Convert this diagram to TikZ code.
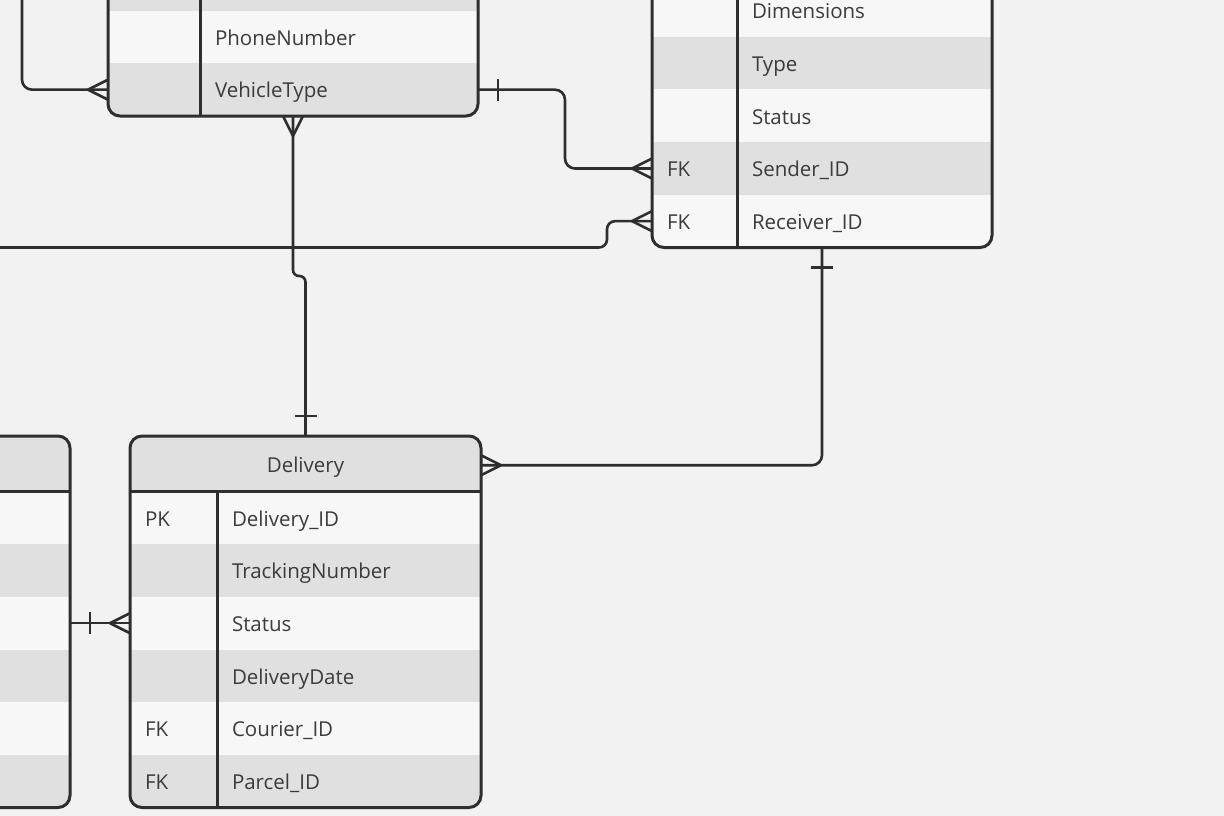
\documentclass[tikz,border=0pt]{standalone}
\usepackage{fontspec}
\setmainfont{Open Sans}

\definecolor{bgcol}{HTML}{F2F2F2}
\definecolor{rowA}{HTML}{F7F7F7}
\definecolor{rowB}{HTML}{E0E0E0}
\definecolor{ink}{HTML}{2E2E2E}
\definecolor{txt}{HTML}{3B3B3B}

\tikzset{
  cell/.style={anchor=north west, inner xsep=15pt, inner ysep=0pt, outer sep=0pt,
    minimum height=52.67pt, text height=16.6pt, text depth=0pt, align=left,
    font=\fontsize{20.5}{24}\selectfont, text=txt},
  lite/.style={cell, fill=rowA},
  dark/.style={cell, fill=rowB},
  tbl/.style={inner sep=0pt, outer sep=0pt},
  frame/.style={draw=ink, line width=3pt, rounded corners=12pt},
  conn/.style={draw=ink, line width=2.6pt},
  crowfoot/.pic={\draw[conn] (-20,0) -- (0,-10) (-20,0) -- (0,10);},
  onebar/.pic={\draw[conn] (-20,-11) -- (-20,11);}
}

\begin{document}
\begin{tikzpicture}[x=1pt, y=-1pt]
  \useasboundingbox (0,0) rectangle (1224,816);
  \clip (0,0) rectangle (1224,816);
  \fill[bgcol] (0,0) rectangle (1224,816);

  % courier table (top left)
  \node[tbl, minimum width=370pt, minimum height=400pt, anchor=south west] (courier) at (108,116) {};
  \begin{scope}
    \clip[rounded corners=12pt] (courier.north west) rectangle (courier.south east);
    \node[dark, text width=62pt] (ck1) at (108,-42) {};
    \node[lite, text width=62pt] (ck2) at (ck1.south west) {};
    \node[dark, text width=62pt] (ck3) at (ck2.south west) {};
    \node[dark, text width=248pt] (cn1) at (ck1.north east) {};
    \node[lite, text width=248pt] (cn2) at (ck2.north east) {PhoneNumber};
    \node[dark, text width=248pt] (cn3) at (ck3.north east) {VehicleType};
  \end{scope}
  \draw[frame] (courier.north west) rectangle (courier.south east);
  \draw[frame] (ck1.north east) -- (ck3.south east);

  % parcel table (top right)
  \node[tbl, minimum width=340pt, minimum height=400pt, anchor=south west] (parcel) at (652,247.5) {};
  \begin{scope}
    \clip[rounded corners=12pt] (parcel.north west) rectangle (parcel.south east);
    \node[lite, text width=55pt] (pk1) at (652,-15.85) {};
    \node[dark, text width=55pt] (pk2) at (pk1.south west) {};
    \node[lite, text width=55pt] (pk3) at (pk2.south west) {};
    \node[dark, text width=55pt] (pk4) at (pk3.south west) {FK};
    \node[lite, text width=55pt] (pk5) at (pk4.south west) {FK};
    \node[lite, text width=225pt] (pn1) at (pk1.north east) {Dimensions};
    \node[dark, text width=225pt] (pn2) at (pk2.north east) {Type};
    \node[lite, text width=225pt] (pn3) at (pk3.north east) {Status};
    \node[dark, text width=225pt] (pn4) at (pk4.north east) {Sender\_ID};
    \node[lite, text width=225pt] (pn5) at (pk5.north east) {Receiver\_ID};
  \end{scope}
  \draw[frame] (parcel.north west) rectangle (parcel.south east);
  \draw[frame] (pk1.north east) -- (pk5.south east);

  % table at bottom left
  \node[tbl, minimum width=270pt, minimum height=371.5pt, anchor=north east] (ltable) at (70,436) {};
  \begin{scope}
    \clip[rounded corners=12pt] (ltable.north west) rectangle (ltable.south east);
    \node[dark, text width=240pt, minimum height=55.5pt] (lhead) at (ltable.north west) {};
    \node[lite, text width=240pt] (lr1) at (lhead.south west) {};
    \node[dark, text width=240pt] (lr2) at (lr1.south west) {};
    \node[lite, text width=240pt] (lr3) at (lr2.south west) {};
    \node[dark, text width=240pt] (lr4) at (lr3.south west) {};
    \node[lite, text width=240pt] (lr5) at (lr4.south west) {};
    \node[dark, text width=240pt] (lr6) at (lr5.south west) {};
  \end{scope}
  \draw[frame] (ltable.north west) rectangle (ltable.south east);
  \draw[frame] (lhead.south west) -- (lhead.south east);

  % delivery table
  \node[tbl, minimum width=351pt, minimum height=371.5pt, anchor=north west] (delivery) at (130,436) {};
  \begin{scope}
    \clip[rounded corners=12pt] (delivery.north west) rectangle (delivery.south east);
    \node[dark, text width=321pt, align=center, minimum height=55.5pt] (dhead) at (130,436) {Delivery};
    \node[lite, text width=57pt] (dk1) at (dhead.south west) {PK};
    \node[dark, text width=57pt] (dk2) at (dk1.south west) {};
    \node[lite, text width=57pt] (dk3) at (dk2.south west) {};
    \node[dark, text width=57pt] (dk4) at (dk3.south west) {};
    \node[lite, text width=57pt] (dk5) at (dk4.south west) {FK};
    \node[dark, text width=57pt] (dk6) at (dk5.south west) {FK};
    \node[lite, text width=234pt] (dn1) at (dk1.north east) {Delivery\_ID};
    \node[dark, text width=234pt] (dn2) at (dk2.north east) {TrackingNumber};
    \node[lite, text width=234pt] (dn3) at (dk3.north east) {Status};
    \node[dark, text width=234pt] (dn4) at (dk4.north east) {DeliveryDate};
    \node[lite, text width=234pt] (dn5) at (dk5.north east) {Courier\_ID};
    \node[dark, text width=234pt] (dn6) at (dk6.north east) {Parcel\_ID};
  \end{scope}
  \draw[frame] (delivery.north west) rectangle (delivery.south east);
  \draw[frame] (dhead.south west) -- (dhead.south east);
  \draw[frame] (dk1.north east) -- (dk6.south east);

  % relations
  \coordinate (c1top) at (22,-20);
  \coordinate (c3left) at (-20,247.5);
  \draw[conn, rounded corners=10pt] (c1top) |- (ck3.west);
  \draw[conn, rounded corners=10pt] (cn3.east) -- ++(87,0) |- (pk4.west);
  \draw[conn, rounded corners=8pt] (c3left) -| ([xshift=-45pt]pk5.west) -- (pk5.west);
  \draw[conn, rounded corners=6pt] (courier.south) -- ++(0,160) -| (delivery.north);
  \draw[conn, rounded corners=10pt] (parcel.south) |- ([yshift=-1.5pt]dhead.east);
  \draw[conn] (lr3.east) -- (dk3.west);

  \pic at (ck3.west) {crowfoot};
  \pic[rotate=180] at (cn3.east) {onebar};
  \pic at (pk4.west) {crowfoot};
  \pic at (pk5.west) {crowfoot};
  \pic[rotate=90] at (courier.south) {crowfoot};
  \pic[rotate=-90] at (delivery.north) {onebar};
  \pic[rotate=90] at (parcel.south) {onebar};
  \pic[rotate=180] at ([yshift=-1.5pt]dhead.east) {crowfoot};
  \pic[rotate=180] at (lr3.east) {onebar};
  \pic at (dk3.west) {crowfoot};
\end{tikzpicture}
\end{document}
